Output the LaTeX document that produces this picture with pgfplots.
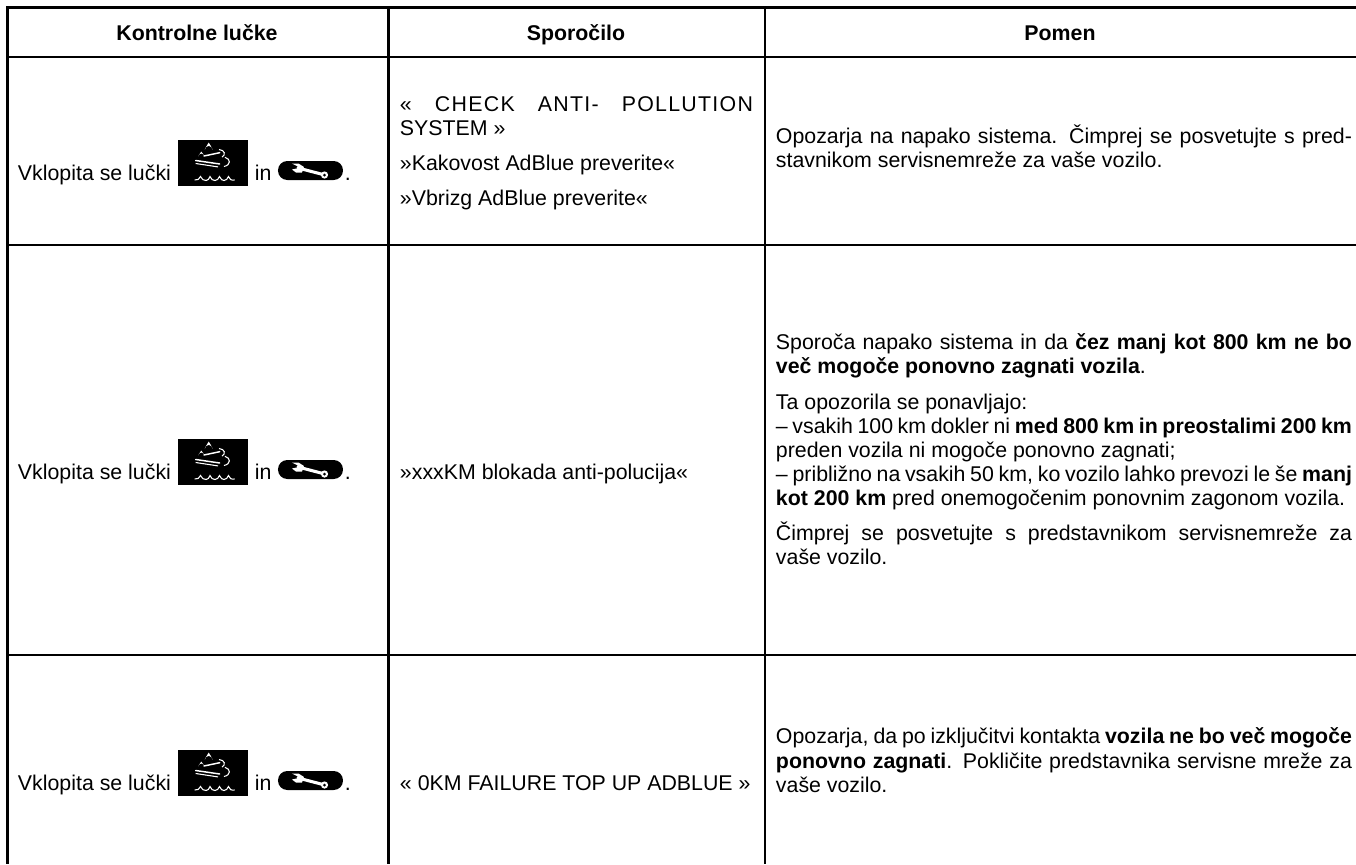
\documentclass[border=0pt]{standalone}
\usepackage{fontspec}
\setmainfont{Liberation Sans}
\usepackage{pgfplots}
\pgfplotsset{compat=1.18}
\newcommand{\tl}[3]{\node[anchor=base west,inner sep=0pt,outer sep=0pt] at (axis cs:#1,#2) {#3};}
\newcommand{\jl}[4]{\node[anchor=base west,inner sep=0pt,outer sep=0pt] at (axis cs:#1,#2) {\makebox[\dimexpr #3pt*3/4\relax][s]{#4}};}
\newcommand{\cl}[3]{\node[anchor=base,inner sep=0pt,outer sep=0pt] at (axis cs:#1,#2) {#3};}
\tikzset{
 pics/lampa/.style={code={
  \begin{scope}[x=0.75pt,y=-0.75pt]
  \fill[black] (0,0) rectangle (70,46);
  \fill[white] (30.7,2.5) .. controls (31.5,5.5) and (34.6,7) .. (34.6,9.8) arc[start angle=0,end angle=-180,radius=3.9] .. controls (26.8,7) and (30,5.5) .. cycle;
  \fill[white] (23.3,11.5) .. controls (24,13.5) and (26.2,14.5) .. (26.2,16.4) arc[start angle=0,end angle=-180,radius=2.9] .. controls (20.4,14.5) and (22.6,13.5) .. cycle;
  \draw[white,line width=1.1pt,line cap=round] (26,16) -- (41.7,12.7);
  \draw[white,line width=1.1pt,line cap=round] (17.7,20.5) -- (41.7,24);
  \draw[white,line width=0.8pt] (17.7,23.5) -- (40,26.9);
  \draw[white,line width=0.8pt] (41,9.5) .. controls (47,10) and (48,15) .. (44,17);
  \draw[white,line width=0.8pt] (47,17.3) .. controls (53,19) and (53,25) .. (46,26.5);
  \draw[white,line width=0.8pt] (16.7,40) .. controls (20,40.5) and (21,39) .. (22.5,36.5) .. controls (23.5,39.5) and (26,40.5) .. (28,40.5)
     .. controls (30,40.5) and (31,39) .. (32,36.5) .. controls (33,39.5) and (35,40.5) .. (37,40.5)
     .. controls (39,40.5) and (40.5,39) .. (41.5,36.5) .. controls (42.5,39.5) and (44.5,40.5) .. (46,40.5)
     .. controls (48,40.5) and (49.5,39) .. (50.5,36.5) .. controls (51.5,39.5) and (53,40.5) .. (56.7,40);
  \end{scope}
 }},
 pics/kljuc/.style={code={
  \begin{scope}[x=0.75pt,y=-0.75pt]
  \fill[black,rounded corners=7pt] (0,0) rectangle (65,19);
  \draw[white,line width=2.3pt,line cap=round] (20,7) -- (45,13.5);
  \fill[white] (14,2.5) -- (20.5,2.5) -- (26,6) -- (24,11.5) -- (18,11.5) -- (14,8.5) -- (19,7.4) -- (19.6,5.4) -- cycle;
  \fill[white] (46.5,14) circle[radius=3.6];
  \fill[black] (46.5,14) circle[radius=1.5];
  \end{scope}
 }}
}
\begin{document}
\begin{tikzpicture}[x=1pt,y=1pt]
\useasboundingbox (0,0) rectangle (1017pt,648pt);
\begin{axis}[
  at={(0,0)},anchor=south west,
  width=1017pt,height=648pt,scale only axis,
  hide axis,clip=false,
  xmin=0,xmax=1356,ymin=0,ymax=864,y dir=reverse,
  cycle list={black}
]
% rules of the table: column rules, then row rules
\addplot[black,line width=1.9pt,forget plot] coordinates {(7.5,6.5) (7.5,864)};
\addplot[black,line width=1.9pt,forget plot] coordinates {(388.5,6.5) (388.5,864)};
\addplot[black,line width=1.9pt,forget plot] coordinates {(765,6.5) (765,864)};
\addplot[black,line width=1.9pt,forget plot] coordinates {(6.5,7.5) (1356,7.5)};
\addplot[black,line width=1.9pt,forget plot] coordinates {(6.5,57) (1356,57)};
\addplot[black,line width=1.9pt,forget plot] coordinates {(6.5,245) (1356,245)};
\addplot[black,line width=1.9pt,forget plot] coordinates {(6.5,655) (1356,655)};
\fontsize{16}{18}\selectfont
% header
\cl{197}{40}{\bfseries Kontrolne lučke}
\cl{576}{40}{\bfseries Sporočilo}
\cl{1060}{40}{\bfseries Pomen}
% column 1
\tl{18}{180}{Vklopita se lučki}
\tl{255}{180}{in}
\tl{345}{180}{.}
\path (axis cs:178,140) pic {lampa};
\path (axis cs:278,161) pic {kljuc};
\tl{18}{479}{Vklopita se lučki}
\tl{255}{479}{in}
\tl{345}{479}{.}
\path (axis cs:178,439) pic {lampa};
\path (axis cs:278,460) pic {kljuc};
\tl{18}{790}{Vklopita se lučki}
\tl{255}{790}{in}
\tl{345}{790}{.}
\path (axis cs:178,750) pic {lampa};
\path (axis cs:278,771) pic {kljuc};
% column 2
\jl{400}{111}{353}{\addfontfeature{LetterSpace=6}« CHECK ANTI- POLLUTION}
\tl{400}{135}{SYSTEM »}
\tl{400}{170}{»Kakovost AdBlue preverite«}
\tl{400}{205}{»Vbrizg AdBlue preverite«}
\tl{400}{479}{»xxxKM blokada anti-polucija«}
\tl{400}{790}{« 0KM FAILURE TOP UP ADBLUE »}
% column 3
\jl{776}{143}{576}{Opozarja na napako sistema. Čimprej se posvetujte s pred-}
\tl{776}{167}{stavnikom servisnemreže za vaše vozilo.}
\jl{776}{349}{576}{Sporoča napako sistema in da \textbf{čez manj kot 800 km ne bo}}
\tl{776}{373}{\textbf{več mogoče ponovno zagnati vozila}.}
\tl{776}{409}{Ta opozorila se ponavljajo:}
\jl{776}{433}{576}{– vsakih 100 km dokler ni \textbf{med 800 km in preostalimi 200 km}}
\tl{776}{457}{preden vozila ni mogoče ponovno zagnati;}
\jl{776}{481}{576}{– približno na vsakih 50 km, ko vozilo lahko prevozi le še \textbf{manj}}
\tl{776}{505}{\textbf{kot 200 km} pred onemogočenim ponovnim zagonom vozila.}
\jl{776}{540}{576}{Čimprej se posvetujte s predstavnikom servisnemreže za}
\tl{776}{564}{vaše vozilo.}
\jl{776}{743}{576}{Opozarja, da po izključitvi kontakta \textbf{vozila ne bo več mogoče}}
\jl{776}{768}{576}{\textbf{ponovno zagnati}. Pokličite predstavnika servisne mreže za}
\tl{776}{792}{vaše vozilo.}
\end{axis}
\end{tikzpicture}
\end{document}
